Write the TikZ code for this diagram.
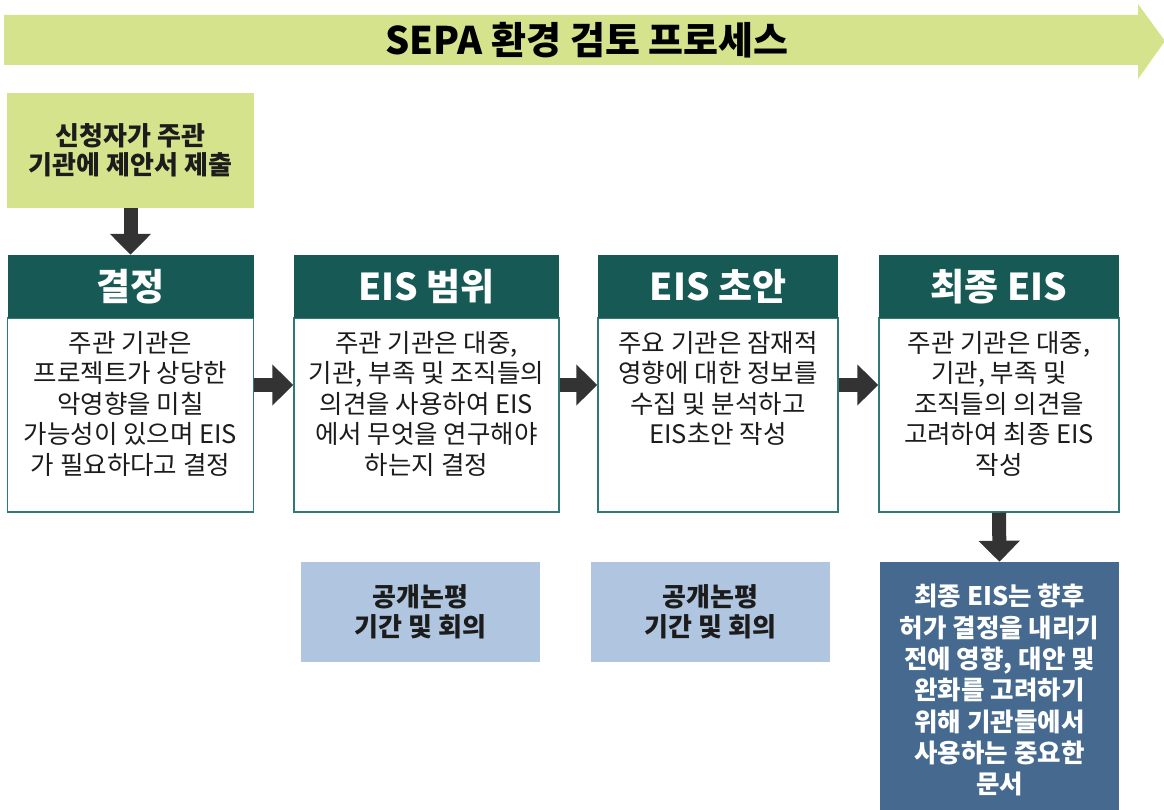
\documentclass[tikz,border=0pt]{standalone}
\usepackage{fontspec}
\setmainfont{Noto Sans CJK KR}
\usetikzlibrary{arrows.meta}
\definecolor{bandgreen}{HTML}{D5E38C}
\definecolor{hdteal}{HTML}{175A55}
\definecolor{tealborder}{HTML}{2F7A74}
\definecolor{steelblue}{HTML}{45698F}
\definecolor{paleblue}{HTML}{AFC5E0}
\definecolor{arrowgray}{HTML}{333333}
\definecolor{textdark}{HTML}{1C1C1C}
\begin{document}
\begin{tikzpicture}[x=1pt,y=-1pt,
  hdr/.style={rectangle, fill=hdteal, draw=none, text=white, inner sep=0,
    minimum height=63pt, font=\fontsize{37}{42}\selectfont\bfseries},
  bodybox/.style={rectangle, fill=white, draw=tealborder, line width=1.5pt,
    inner sep=0, minimum height=194pt},
  bodytext/.style={anchor=north, inner sep=0, align=center, text=textdark,
    font=\fontsize{25.5}{30.5}\selectfont},
  greenbox/.style={rectangle, fill=bandgreen, draw=none, inner sep=0,
    align=center, text=textdark, font=\fontsize{26}{29.5}\selectfont\bfseries},
  palebox/.style={rectangle, fill=paleblue, draw=none, inner sep=0,
    minimum width=239pt, minimum height=100pt, align=center, text=textdark,
    font=\fontsize{26}{29.5}\selectfont\bfseries},
  blockarrow/.style={draw=arrowgray, line width=14pt,
    -{Triangle[width=40pt,length=21pt]}}
]
\useasboundingbox (0,0) rectangle (1164,810);

% title band arrow
\fill[bandgreen] (4,15) -- (1138,15) -- (1138,4) -- (1165,41) -- (1138,79)
  -- (1138,65) -- (4,65) -- cycle;
\node[inner sep=0, text=black, font=\fontsize{38}{40}\selectfont\bfseries] (title)
  at (587,40) {SEPA 환경 검토 프로세스};

% applicant box
\node[greenbox, minimum width=247pt, minimum height=115pt] (apply) at (130.5,150.5)
  {신청자가 주관\\기관에 제안서 제출};

% step boxes
\node[bodybox, minimum width=246pt] (b1) at (130.5,415) {};
\node[hdr, minimum width=246pt] (h1) at (130.5,286.5) {결정};
\node[bodytext] (t1) at (130.5,331)
  {주관 기관은\\프로젝트가 상당한\\악영향을 미칠\\가능성이 있으며 EIS\\가 필요하다고 결정};

\node[bodybox, minimum width=265pt] (b2) at (426.5,415) {};
\node[hdr, minimum width=265pt] (h2) at (426.5,286.5) {EIS 범위};
\node[bodytext] (t2) at (426.5,331)
  {주관 기관은 대중,\\기관, 부족 및 조직들의\\의견을 사용하여 EIS\\에서 무엇을 연구해야\\하는지 결정};

\node[bodybox, minimum width=240pt] (b3) at (718,415) {};
\node[hdr, minimum width=240pt] (h3) at (718,286.5) {EIS 초안};
\node[bodytext] (t3) at (718,331)
  {주요 기관은 잠재적\\영향에 대한 정보를\\수집 및 분석하고\\EIS초안 작성};

\node[bodybox, minimum width=240pt] (b4) at (999,415) {};
\node[hdr, minimum width=240pt] (h4) at (999,286.5) {최종 EIS};
\node[bodytext] (t4) at (999,331)
  {주관 기관은 대중,\\기관, 부족 및\\조직들의 의견을\\고려하여 최종 EIS\\작성};

% comment boxes
\node[palebox] (c2) at (420.5,612) {공개논평\\기간 및 회의};
\node[palebox] (c3) at (710.5,612) {공개논평\\기간 및 회의};

% final document box
\node[rectangle, fill=steelblue, draw=none, inner sep=0,
  minimum width=239pt, minimum height=248pt] (fin) at (999.5,686) {};
\node[anchor=north, inner sep=0, align=center, text=white,
  font=\fontsize{25.5}{31.3}\selectfont\bfseries] (fintext) at (999.5,584)
  {최종 EIS는 향후\\허가 결정을 내리기\\전에 영향, 대안 및\\완화를 고려하기\\위해 기관들에서\\사용하는 중요한\\문서};

% arrows
\draw[blockarrow] (apply.south) -- (h1.north);
\draw[blockarrow] ([yshift=30pt]b1.east) -- ([yshift=30pt]b2.west);
\draw[blockarrow] ([yshift=30pt]b2.east) -- ([yshift=30pt]b3.west);
\draw[blockarrow] ([yshift=30pt]b3.east) -- ([yshift=30pt]b4.west);
\draw[blockarrow] (b4.south) -- (fin.north);
\end{tikzpicture}
\end{document}
